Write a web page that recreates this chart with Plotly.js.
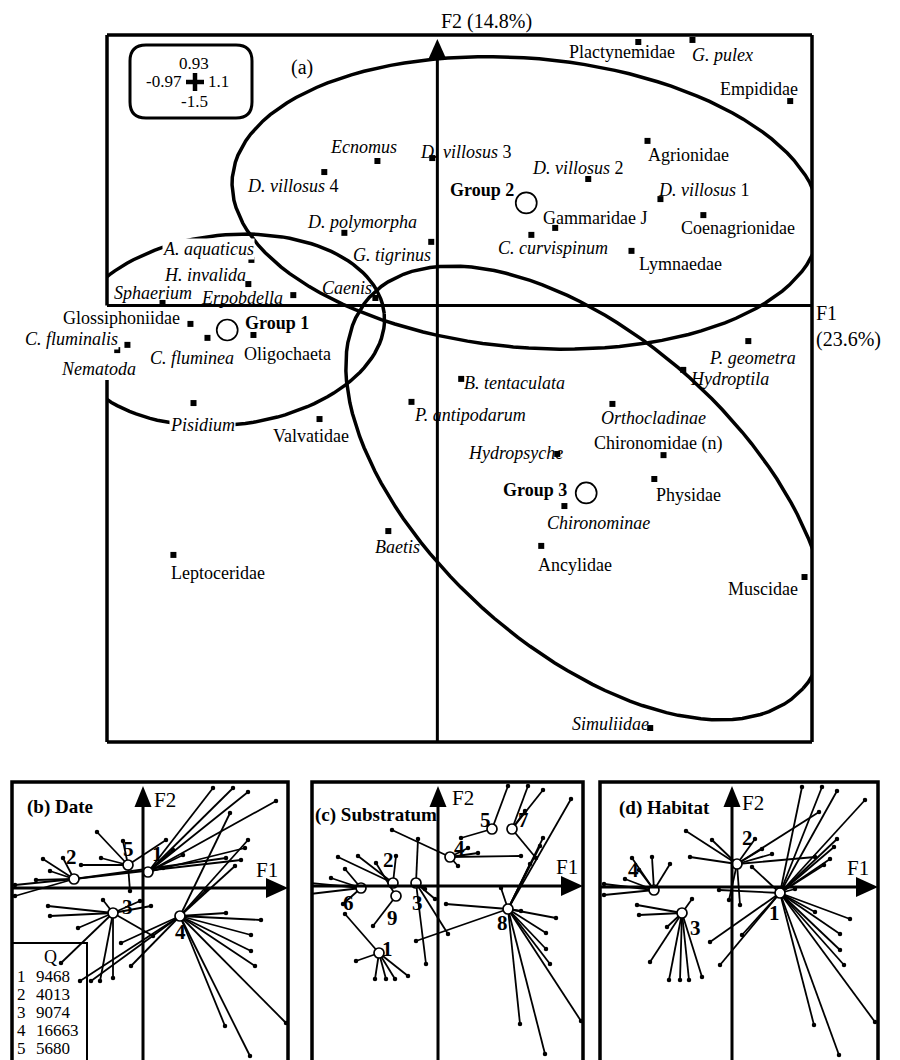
<!DOCTYPE html>
<html>
<head>
<meta charset="utf-8">
<script src="https://cdn.plot.ly/plotly-3.0.1.min.js"></script>
<style>body{margin:0;background:#fff}</style>
</head>
<body>
<div id="chart" style="width:900px;height:1060px"></div>
<script>
// ---------- (a) taxa on the F1 x F2 plane ----------
const taxa = ['Plactynemidae', 'G. pulex', 'Empididae', 'Agrionidae', 'D. villosus 2', 'D. villosus 1',
    'Coenagrionidae', 'Gammaridae J', 'C. curvispinum', 'Lymnaedae', 'Ecnomus', 'D. villosus 3',
    'D. villosus 4', 'D. polymorpha', 'G. tigrinus', 'A. aquaticus', 'H. invalida', 'Erpobdella',
    'Sphaerium', 'Caenis', 'Glossiphoniidae', 'C. fluminea', 'Oligochaeta', 'C. fluminalis',
    'Nematoda', 'Pisidium', 'Valvatidae', 'Leptoceridae', 'Baetis', 'B. tentaculata',
    'P. antipodarum', 'P. geometra', 'Hydroptila', 'Orthocladinae', 'Chironomidae (n)',
    'Hydropsyche', 'Physidae', 'Chironominae', 'Ancylidae', 'Muscidae', 'Simuliidae'];
const taxaF1 = [0.590, 0.749, 1.036, 0.617, 0.443, 0.655, 0.781, 0.346, 0.276, 0.570, -0.176, -0.015,
    -0.332, -0.273, -0.018, -0.546, -0.555, -0.423, -0.807, -0.182, -0.725, -0.675, -0.540, -0.910,
    -0.940, -0.716, -0.346, -0.775, -0.144, 0.070, -0.076, 0.913, 0.722, 0.514, 0.664,
    0.352, 0.637, 0.373, 0.305, 1.078, 0.625];
const taxaF2 = [0.906, 0.913, 0.703, 0.566, 0.435, 0.366, 0.311, 0.267, 0.243, 0.188, 0.497, 0.507,
    0.459, 0.250, 0.219, 0.157, 0.074, 0.036, 0.009, 0.026, -0.063, -0.111, -0.101, -0.135,
    -0.153, -0.335, -0.390, -0.857, -0.775, -0.252, -0.331, -0.122, -0.221, -0.338, -0.514,
    -0.510, -0.596, -0.689, -0.826, -0.933, -1.452];

const groups = ['Group 1', 'Group 2', 'Group 3'];
const groupF1 = [-0.617, 0.261, 0.437];
const groupF2 = [-0.084, 0.353, -0.644];
// ellipse half-axes of each group, as two vectors in F1/F2 units: [a1, a2, b1, b2]
const groupEllipse = [
    [0.461, 0.057, 0.029, -0.325],
    [0.863, -0.088, -0.038, -0.495],
    [0.637, -0.672, -0.304, -0.396]
];
// scale box of panel (a)
const scaleF1 = [-0.97, 1.1];
const scaleF2 = [-1.5, 0.93];

// ---------- (b)-(d) samples and their classes ----------
const siteF1 = [0.70, 0.90, 1.05, 1.33, 0.87, 1.05, 1.02, 0.98, 0.92, 0.83, 0.40, 0.23,
    1.18, 1.08, 1.08, 1.12, 1.43, 0.82, 1.07, 0.83,
    -0.82, -0.63, -0.52, -0.43, -0.30, -0.22, -0.12,
    -1.28, -1.28, -1.07, -0.95, -0.93, -1.00, -0.80, -0.62, -0.46, -0.20, -0.42, -0.65,
    -0.03, 0.08, 0.20, -0.13,
    0.63, 0.10, -0.93, 0.30, -0.40];
const siteF2 = [1.00, 1.00, 0.96, 0.87, 0.75, 0.48, 0.40, 0.28, 0.22, 0.30, 0.33, 0.48,
    -0.32, -0.47, -0.63, -0.78, -1.35, -1.38, -1.68, -0.25,
    -0.75, -0.93, -0.93, -0.93, -0.90, -0.55, -0.78,
    0.03, -0.08, 0.08, -0.18, -0.28, 0.29, 0.30, 0.23, 0.56, 0.47, 0.30, -0.40,
    -0.13, -0.18, 0.20, -0.03,
    -0.02, -0.48, 0.17, 0.38, -0.12];

const dateGroup = [1, 1, 1, 1, 4, 4, 1, 2, 4, 2, 1, 5,  4, 4, 4, 4, 4, 4, 4, 4,
    3, 4, 4, 3, 3, 4, 4,  2, 2, 2, 3, 3, 2, 2, 5, 5, 5, 5, 3,  3, 3, 1, 5,  4, 3, 2, 1, 3];
const substrateGroup = [5, 7, 7, 8, 7, 8, 8, 7, 8, 4, 4, 5,  8, 8, 8, 8, 8, 8, 8, 8,
    1, 1, 1, 1, 1, 8, 3,  6, 6, 6, 6, 1, 2, 2, 9, 4, 3, 2, 9,  3, 8, 4, 3,  8, 3, 6, 4, 9];
const habitatGroup = [1, 1, 1, 1, 2, 1, 1, 1, 1, 2, 2, 2,  1, 1, 1, 1, 1, 1, 1, 1,
    3, 3, 3, 3, 3, 1, 1,  4, 4, 4, 3, 3, 4, 4, 4, 2, 2, 2, 3,  2, 2, 1, 1,  1, 1, 4, 2, 3];

const dateCentreF1 = [0.05, -0.69, -0.30, 0.37, -0.15];
const dateCentreF2 = [0.16, 0.09, -0.25, -0.28, 0.23];
const dateQ = [9468, 4013, 9074, 16663, 5680];
const substrateCentreF1 = [-0.59, -0.45, -0.22, 0.12, 0.54, -0.77, 0.74, 0.70, -0.42];
const substrateCentreF2 = [-0.67, 0.03, 0.03, 0.29, 0.57, -0.02, 0.57, -0.23, -0.10];
const habitatCentreF1 = [0.48, 0.05, -0.50, -0.78];
const habitatCentreF2 = [-0.06, 0.23, -0.26, -0.03];

// ---------- styling ----------
const FONT = '"Liberation Serif", "Times New Roman", serif';
const italicTaxa = new Set(['G. pulex', 'D. villosus 2', 'D. villosus 1', 'C. curvispinum', 'Ecnomus',
    'D. villosus 3', 'D. villosus 4', 'D. polymorpha', 'G. tigrinus', 'A. aquaticus', 'H. invalida',
    'Sphaerium', 'Erpobdella', 'Caenis', 'C. fluminea', 'C. fluminalis', 'Nematoda', 'Pisidium',
    'Baetis', 'B. tentaculata', 'P. antipodarum', 'P. geometra', 'Hydroptila', 'Orthocladinae',
    'Hydropsyche', 'Chironominae', 'Simuliidae']);
// labels printed on a white box that hides the lines below them
const boxedTaxa = new Set(['Glossiphoniidae', 'C. fluminalis', 'Nematoda', 'Pisidium', 'A. aquaticus']);
// label offset from its point, in pixels (right, down)
const taxaLabelDx = [-16, 30, -31, 41, -10, 44, 35, 40, 22, 49, -14, 34, -31, 18, -39, -43, -43, -51,
    -10, -28, -69, -15, 34, -56, -19, 9, -9, 45, 9, 53, 59, 4, 46, 41, -6, -42, 34, 34, 34, -42, -40];
const taxaLabelDy = [10, 15, -12, 14, -11, -9, 13, -10, 13, 13, -14, -6, 14, -11, 13, -11, -9, 3,
    -10, -10, -6, 20, 19, -6, 19, 22, 17, 18, 16, 4, 13, 17, 9, 14, -12, -1, 16, 17, 19, 12, -4];
const groupLabelDx = [50, -44, -51];
const groupLabelDy = [-7, -13, -3];
const dateLabelDx = [9, -3, 14, 0, 0], dateLabelDy = [-18, -22, -6, 16, -16];
const substrateLabelDx = [8, -5, 1, 9, -7, -13, 11, -6, -4];
const substrateLabelDy = [-4, -23, 20, -9, -9, 15, -9, 14, 22];
const habitatLabelDx = [-6, 10, 13, -21], habitatLabelDy = [20, -26, 15, -20];

const W = 900, H = 1060;
const px = v => v / W;
const py = v => 1 - v / H;

function taxonText(name) {
    if (!italicTaxa.has(name)) return name;
    const m = name.match(/^(.*?)( \d)$/);
    return m ? '<i>' + m[1] + '</i>' + m[2] : '<i>' + name + '</i>';
}

const traces = [];
const annotations = [];
const shapes = [];

// text placed on the page, by pixel position
function note(x, y, text, size, xanchor) {
    annotations.push({xref: 'paper', yref: 'paper', x: px(x), y: py(y), text: text, showarrow: false,
        xanchor: xanchor || 'center', yanchor: 'middle', font: {size: size}});
}

// ---- panel (a) ----
groups.forEach((g, i) => {
    const e = groupEllipse[i];
    const ex = [], ey = [];
    for (let k = 0; k <= 120; k++) {
        const t = 2 * Math.PI * k / 120;
        ex.push(groupF1[i] + e[0] * Math.cos(t) + e[2] * Math.sin(t));
        ey.push(groupF2[i] + e[1] * Math.cos(t) + e[3] * Math.sin(t));
    }
    traces.push({x: ex, y: ey, mode: 'lines', line: {color: 'black', width: 3.5}, hoverinfo: 'skip'});
});
traces.push({x: taxaF1, y: taxaF2, mode: 'markers', text: taxa,
    marker: {symbol: 'square', size: 6, color: 'black'}});
traces.push({x: groupF1, y: groupF2, mode: 'markers', text: groups,
    marker: {symbol: 'circle-open', size: 21, color: 'black', line: {width: 1.7}}});

taxa.forEach((t, i) => {
    annotations.push({x: taxaF1[i], y: taxaF2[i], xref: 'x', yref: 'y', showarrow: false,
        xanchor: 'center', yanchor: 'middle',
        text: taxonText(t), xshift: taxaLabelDx[i], yshift: -taxaLabelDy[i],
        font: {size: 18}, bgcolor: boxedTaxa.has(t) ? 'white' : 'rgba(0,0,0,0)', borderpad: 0});
});
groups.forEach((g, i) => {
    annotations.push({x: groupF1[i], y: groupF2[i], xref: 'x', yref: 'y', showarrow: false,
        xanchor: 'center', yanchor: 'middle',
        text: '<b>' + g + '</b>', xshift: groupLabelDx[i], yshift: -groupLabelDy[i], font: {size: 18}});
});

// frame of (a) with the gap on the left side
const frameLine = {color: 'black', width: 3.5};
shapes.push({type: 'line', xref: 'x domain', yref: 'y domain', x0: 0, x1: 1, y0: 1, y1: 1, line: frameLine});
shapes.push({type: 'line', xref: 'x domain', yref: 'y domain', x0: 1, x1: 1, y0: 0, y1: 1, line: frameLine});
shapes.push({type: 'line', xref: 'x domain', yref: 'y domain', x0: 0, x1: 1, y0: 0, y1: 0, line: frameLine});
shapes.push({type: 'line', xref: 'x domain', yref: 'y', x0: 0, x1: 0, y0: 0, y1: scaleF2[1], line: frameLine});
shapes.push({type: 'line', xref: 'x domain', yref: 'y domain', x0: 0, x1: 0, y0: 0, y1: 0.512, line: frameLine});
// F1 / F2 axes
shapes.push({type: 'line', xref: 'x domain', yref: 'y', x0: 0, x1: 1, y0: 0, y1: 0, line: {color: 'black', width: 3}});
shapes.push({type: 'line', xref: 'x', yref: 'y domain', x0: 0, x1: 0, y0: 0, y1: 0.97, line: {color: 'black', width: 3}});
shapes.push({type: 'path', xref: 'x', yref: 'y', xsizemode: 'pixel', ysizemode: 'pixel',
    xanchor: 0, yanchor: scaleF2[1], path: 'M -8.5,-23 L 8.5,-23 L 0,-4 Z',
    fillcolor: 'black', line: {width: 0}});

// scale box
shapes.push({type: 'path', xref: 'paper', yref: 'paper', xsizemode: 'pixel', ysizemode: 'pixel',
    xanchor: px(130), yanchor: py(118),
    path: 'M 16,0 L 106,0 Q 122,0 122,16 L 122,57 Q 122,73 106,73 L 16,73 Q 0,73 0,57 L 0,16 Q 0,0 16,0 Z',
    line: {color: 'black', width: 3}});
shapes.push({type: 'line', xref: 'paper', yref: 'paper', xsizemode: 'pixel', ysizemode: 'pixel',
    xanchor: px(195), yanchor: py(82), x0: -9, x1: 9, y0: 0, y1: 0, line: {color: 'black', width: 4.5}});
shapes.push({type: 'line', xref: 'paper', yref: 'paper', xsizemode: 'pixel', ysizemode: 'pixel',
    xanchor: px(195), yanchor: py(82), x0: 0, x1: 0, y0: -9, y1: 9, line: {color: 'black', width: 4.5}});
note(194, 64, String(scaleF2[1]), 17);
note(194, 101, String(scaleF2[0]), 17);
note(184, 82, String(scaleF1[0]), 17, 'right');
note(206, 82, String(scaleF1[1]), 17, 'left');

note(302, 67, '(a)', 20);
note(486, 21, 'F2 (14.8%)', 20);
note(814, 313, 'F1', 20, 'left');
note(814, 340, '(23.6%)', 20, 'left');

// ---- panels (b), (c), (d) ----
const panels = [
    {ax: '2', cls: dateGroup, cF1: dateCentreF1, cF2: dateCentreF2, dx: dateLabelDx, dy: dateLabelDy,
        title: '(b) Date', titleX: 25, titleY: 807, f2: [165, 800], f1: [267, 870]},
    {ax: '3', cls: substrateGroup, cF1: substrateCentreF1, cF2: substrateCentreF2, dx: substrateLabelDx, dy: substrateLabelDy,
        title: '(c) Substratum', titleX: 313, titleY: 815, f2: [463, 798], f1: [567, 867]},
    {ax: '4', cls: habitatGroup, cF1: habitatCentreF1, cF2: habitatCentreF2, dx: habitatLabelDx, dy: habitatLabelDy,
        title: '(d) Habitat', titleX: 617, titleY: 808, f2: [753, 803], f1: [858, 868]}
];
const panelRangeX = {'2': [-1.31, 1.45], '3': [-1.26, 1.45], '4': [-1.32, 1.46]};
const panelRangeY = {'2': [-1.72, 1.06], '3': [-1.74, 1.04], '4': [-1.73, 1.05]};

panels.forEach(p => {
    const xa = 'x' + p.ax, ya = 'y' + p.ax;
    const sx = [], sy = [];
    siteF1.forEach((v, i) => {
        const c = p.cls[i] - 1;
        sx.push(p.cF1[c], v, null);
        sy.push(p.cF2[c], siteF2[i], null);
    });
    traces.push({x: sx, y: sy, xaxis: xa, yaxis: ya, mode: 'lines', line: {color: 'black', width: 1.8}, hoverinfo: 'skip'});
    traces.push({x: siteF1, y: siteF2, xaxis: xa, yaxis: ya, mode: 'markers', marker: {size: 4.5, color: 'black'}});
    traces.push({x: p.cF1, y: p.cF2, xaxis: xa, yaxis: ya, mode: 'markers',
        marker: {size: 10, color: 'white', line: {color: 'black', width: 1.7}}});
    p.cF1.forEach((v, i) => {
        annotations.push({x: v, y: p.cF2[i], xref: xa, yref: ya, showarrow: false, text: '<b>' + (i + 1) + '</b>',
            xanchor: 'center', yanchor: 'middle',
            xshift: p.dx[i], yshift: -p.dy[i], font: {size: 21}});
    });
    // frame, axes and arrow heads
    shapes.push({type: 'rect', xref: xa + ' domain', yref: ya + ' domain', x0: 0, x1: 1, y0: -0.1, y1: 1,
        line: {color: 'black', width: 3.5}});
    shapes.push({type: 'line', xref: xa + ' domain', yref: ya, x0: 0, x1: 0.95, y0: 0, y1: 0, line: {color: 'black', width: 3}});
    shapes.push({type: 'line', xref: xa, yref: ya + ' domain', x0: 0, x1: 0, y0: -0.1, y1: 0.95, line: {color: 'black', width: 3}});
    shapes.push({type: 'path', xref: xa, yref: ya, xsizemode: 'pixel', ysizemode: 'pixel',
        xanchor: 0, yanchor: panelRangeY[p.ax][1], path: 'M -8.5,-25 L 8.5,-25 L 0,-4 Z',
        fillcolor: 'black', line: {width: 0}});
    shapes.push({type: 'path', xref: xa, yref: ya, xsizemode: 'pixel', ysizemode: 'pixel',
        xanchor: panelRangeX[p.ax][1], yanchor: 0, path: 'M -22,-10 L -22,10 L 0,0 Z',
        fillcolor: 'black', line: {width: 0}});
    note(p.titleX, p.titleY, '<b>' + p.title + '</b>', 19, 'left');
    note(p.f2[0], p.f2[1], 'F2', 21);
    note(p.f1[0], p.f1[1], 'F1', 21);
});

// discharge table in (b)
shapes.push({type: 'rect', xref: 'paper', yref: 'paper', x0: px(12), x1: px(87), y0: -0.02, y1: py(943),
    line: {color: 'black', width: 2}});
note(50, 957, 'Q', 18);
dateQ.forEach((q, i) => {
    const yy = 976 + i * 18;
    note(15, yy, String(i + 1), 17, 'left');
    note(34, yy, String(q), 17, 'left');
});

const hidden = (domain, range, anchor) => ({domain, range, anchor, visible: false, fixedrange: true});
const layout = {
    width: W, height: H,
    margin: {l: 0, r: 0, t: 0, b: 0},
    paper_bgcolor: 'white', plot_bgcolor: 'white',
    showlegend: false,
    font: {family: FONT, size: 17, color: 'black'},
    xaxis: hidden([px(107), px(812)], scaleF1, 'y'),
    yaxis: hidden([py(742), py(35)], scaleF2, 'x'),
    xaxis2: hidden([px(12), px(288)], panelRangeX['2'], 'y2'),
    yaxis2: hidden([0, py(782)], panelRangeY['2'], 'x2'),
    xaxis3: hidden([px(312), px(583)], panelRangeX['3'], 'y3'),
    yaxis3: hidden([0, py(782)], panelRangeY['3'], 'x3'),
    xaxis4: hidden([px(600), px(878)], panelRangeX['4'], 'y4'),
    yaxis4: hidden([0, py(782)], panelRangeY['4'], 'x4'),
    shapes: shapes,
    annotations: annotations
};

Plotly.newPlot('chart', traces, layout, {displayModeBar: false, staticPlot: true});
</script>
</body>
</html>
